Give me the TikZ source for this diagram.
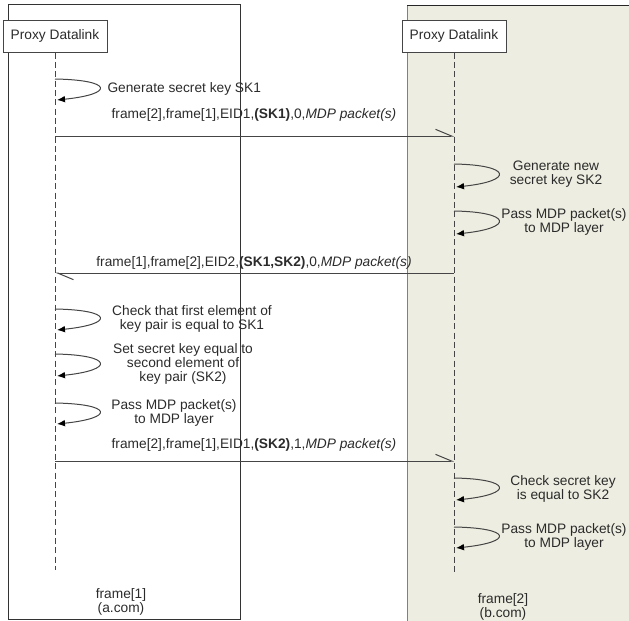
\documentclass[tikz,border=0pt]{standalone}
\usepackage{fontspec}
\setmainfont{Liberation Sans}
\usetikzlibrary{arrows.meta}

\definecolor{framebg}{HTML}{EDEDE1}
\definecolor{linegray}{HTML}{454545}
\definecolor{textgray}{HTML}{2B2B2B}

\tikzset{
  lifebox/.style={draw=linegray, fill=white, minimum width=78pt, minimum height=24pt, inner sep=0pt},
  lifeline/.style={draw=linegray, dash pattern=on 4.5pt off 2.5pt},
  msg/.style={draw=linegray, -{Straight Barb[left, length=12pt, width=10pt]}},
  selfcall/.style={draw=linegray, -{Latex[length=6pt, width=5pt, black]}},
  note/.style={align=center, inner sep=0pt},
}

\begin{document}
\begin{tikzpicture}[x=0.75pt, y=-0.75pt, line width=0.75pt, text=textgray,
    font=\fontsize{10.3}{10.6}\selectfont]
  \useasboundingbox (0,0) rectangle (629,621);

  % frames
  \fill[framebg] (407,5) rectangle (640,630);
  \draw[gray] (407,630) -- (407,5);
  \draw[black!85] (407,5) -- (640,5);
  \draw[black!80] (8,4) rectangle (240,619);

  % lifelines
  \node[lifebox] (pdA) at (55,36) {Proxy Datalink};
  \node[lifebox] (pdB) at (454,36) {Proxy Datalink};
  \coordinate (endA) at (55,570);
  \coordinate (endB) at (454,575);
  \draw[lifeline] (pdA.south) -- (endA);
  \draw[lifeline] (pdB.south) -- (endB);

  % frame[1] generates SK1
  \coordinate (s1a) at (55,79);
  \coordinate (s1b) at (57,100);
  \draw[selfcall] (s1a) .. controls +(58,1) and +(58,-6) .. (s1b);
  \node[note, anchor=west] (gen1) at (107,89) {Generate secret key SK1};

  % message 1
  \coordinate (m1a) at (55,136);
  \coordinate (m1b) at (454,136);
  \draw[msg] (m1a) -- (m1b);
  \node (lbl1) at (254,115) {frame[2],frame[1],EID1,\textbf{(SK1)},0,\textit{MDP packet(s)}};

  % frame[2] side
  \coordinate (s2a) at (454,164);
  \coordinate (s2b) at (456,187);
  \draw[selfcall] (s2a) .. controls +(58,1) and +(58,-6) .. (s2b);
  \node[note] (gen2) at (556,174) {Generate new\\secret key SK2};

  \coordinate (s3a) at (454,211);
  \coordinate (s3b) at (456,234);
  \draw[selfcall] (s3a) .. controls +(58,1) and +(58,-6) .. (s3b);
  \node[note] (pass1) at (564,222) {Pass MDP packet(s)\\to MDP layer};

  % message 2
  \coordinate (m2a) at (454,273);
  \coordinate (m2b) at (55,273);
  \draw[msg] (m2a) -- (m2b);
  \node (lbl2) at (254,263) {frame[1],frame[2],EID2,\textbf{(SK1,SK2)},0,\textit{MDP packet(s)}};

  % frame[1] checks and sets key
  \coordinate (s4a) at (55,309);
  \coordinate (s4b) at (57,330);
  \draw[selfcall] (s4a) .. controls +(58,1) and +(58,-6) .. (s4b);
  \node[note] (chk1) at (192,319) {Check that first element of\\key pair is equal to SK1};

  \coordinate (s5a) at (55,354);
  \coordinate (s5b) at (57,376);
  \draw[selfcall] (s5a) .. controls +(58,1) and +(58,-6) .. (s5b);
  \node[note] (set1) at (183,364) {Set secret key equal to\\second element of\\key pair (SK2)};

  \coordinate (s6a) at (55,403);
  \coordinate (s6b) at (57,424);
  \draw[selfcall] (s6a) .. controls +(58,1) and +(58,-6) .. (s6b);
  \node[note] (pass2) at (174,413) {Pass MDP packet(s)\\to MDP layer};

  % message 3
  \coordinate (m3a) at (55,461);
  \coordinate (m3b) at (454,461);
  \draw[msg] (m3a) -- (m3b);
  \node (lbl3) at (254,445) {frame[2],frame[1],EID1,\textbf{(SK2)},1,\textit{MDP packet(s)}};

  % frame[2] checks key
  \coordinate (s7a) at (454,478);
  \coordinate (s7b) at (456,500);
  \draw[selfcall] (s7a) .. controls +(58,1) and +(58,-6) .. (s7b);
  \node[note] (chk2) at (563,489) {Check secret key\\is equal to SK2};

  \coordinate (s8a) at (454,527);
  \coordinate (s8b) at (456,548);
  \draw[selfcall] (s8a) .. controls +(58,1) and +(58,-6) .. (s8b);
  \node[note] (pass3) at (564,537) {Pass MDP packet(s)\\to MDP layer};

  % frame names
  \node[note] (fa) at (121,602) {frame[1]\\(a.com)};
  \node[note] (fb) at (503,607) {frame[2]\\(b.com)};
\end{tikzpicture}
\end{document}
